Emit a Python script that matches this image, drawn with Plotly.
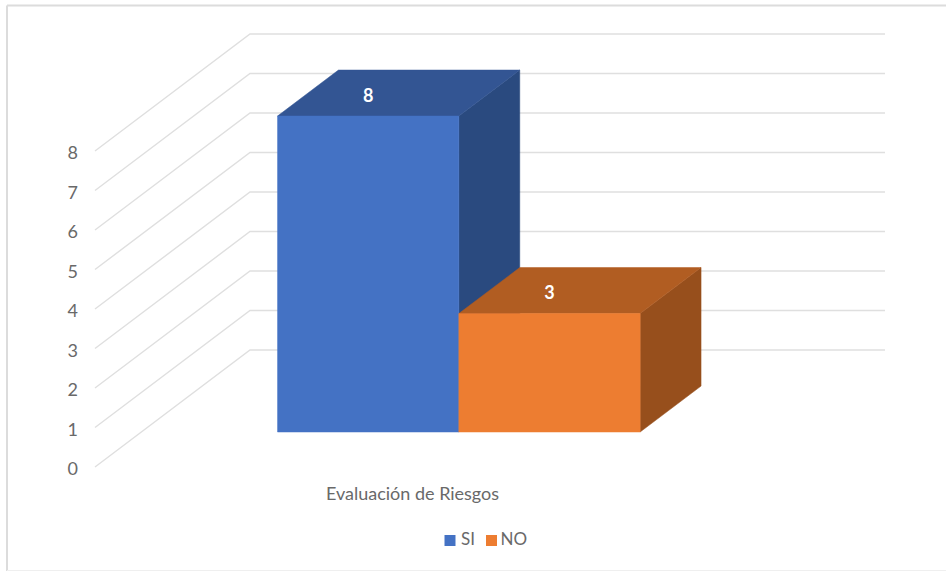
import plotly.graph_objects as go

# Chart data
categories = ["Evaluación de Riesgos"]
series_names = ["SI", "NO"]
si_values = [8]
no_values = [3]
value_ticks = [0, 1, 2, 3, 4, 5, 6, 7, 8]

# Oblique projection: depth runs from the front of the floor (0) to the back wall (1)
WIDTH, HEIGHT = 946, 571
PX_PER_CATEGORY = 635.0
PX_PER_VALUE = 39.5
ORIGIN_X, ORIGIN_Y = 95.0, 467.0
DEPTH_X = 155.0 / PX_PER_CATEGORY
DEPTH_Y = 117.0 / PX_PER_VALUE
BAR_FRONT, BAR_BACK = 0.299, 0.692
BAR_WIDTH = 0.2855

FONT = "Lato, Carlito, Calibri, sans-serif"
TEXT_COLOR = "#696969"
GRID_COLOR = "#dfdfdf"
FACE_COLORS = {
    "SI": ("#4472c4", "#335593", "#2a4a7f"),
    "NO": ("#ed7d31", "#b15d22", "#974f1c"),
}
# Key entries, as pixel positions of the swatch centres and of the start of the names
KEY_X = {"SI": 450.0, "NO": 491.5}
KEY_TEXT_X = {"SI": 461.0, "NO": 500.5}
KEY_Y = 540.5


def project(u, v, d):
    return u + DEPTH_X * d, v + DEPTH_Y * d


def polyline(points):
    xs, ys = zip(*(project(*p) for p in points))
    return list(xs), list(ys)


fig = go.Figure()

# Side and back wall gridlines
for v in value_ticks:
    xs, ys = polyline([(0, v, 0), (0, v, 1), (1, v, 1)])
    fig.add_trace(go.Scatter(x=xs, y=ys, mode="lines", showlegend=False, hoverinfo="skip",
                             line=dict(color=GRID_COLOR, width=1.4)))


def add_face(points, color):
    xs, ys = polyline(points + points[:1])
    fig.add_trace(go.Scatter(x=xs, y=ys, mode="lines", fill="toself", fillcolor=color,
                             line=dict(color=color, width=0.5), showlegend=False,
                             hoverinfo="skip"))


# One box per series, side by side around the category centre
category_center = 0.5
for i, (name, values) in enumerate(zip(series_names, [si_values, no_values])):
    front, top, side = FACE_COLORS[name]
    left = category_center - BAR_WIDTH + i * BAR_WIDTH
    right = left + BAR_WIDTH
    val = values[0]
    add_face([(right, 0, BAR_FRONT), (right, 0, BAR_BACK), (right, val, BAR_BACK), (right, val, BAR_FRONT)], side)
    add_face([(left, val, BAR_FRONT), (right, val, BAR_FRONT), (right, val, BAR_BACK), (left, val, BAR_BACK)], top)
    add_face([(left, 0, BAR_FRONT), (right, 0, BAR_FRONT), (right, val, BAR_FRONT), (left, val, BAR_FRONT)], front)
    lx, ly = project((left + right) / 2, val, BAR_FRONT)
    fig.add_trace(go.Scatter(x=[lx], y=[ly + 0.47], mode="text", text=[str(val)], showlegend=False,
                             hoverinfo="skip",
                             textfont=dict(family=FONT, size=18, color="#ffffff", weight="bold")))

# Compact key below the plot: a square swatch with its series name
key_y = (ORIGIN_Y - KEY_Y) / PX_PER_VALUE
for name in series_names:
    fig.add_trace(go.Scatter(x=[(KEY_X[name] - ORIGIN_X) / PX_PER_CATEGORY], y=[key_y],
                             mode="markers", name=name, showlegend=False, hoverinfo="skip",
                             marker=dict(symbol="square", size=11, color=FACE_COLORS[name][0])))
    fig.add_trace(go.Scatter(x=[(KEY_TEXT_X[name] - ORIGIN_X) / PX_PER_CATEGORY], y=[key_y],
                             mode="text", text=[name], textposition="middle right",
                             showlegend=False, hoverinfo="skip",
                             textfont=dict(family=FONT, size=17, color=TEXT_COLOR)))

x_min = -ORIGIN_X / PX_PER_CATEGORY
x_max = (WIDTH - ORIGIN_X) / PX_PER_CATEGORY
y_max = ORIGIN_Y / PX_PER_VALUE
y_min = (ORIGIN_Y - HEIGHT) / PX_PER_VALUE

fig.update_layout(
    width=WIDTH, height=HEIGHT, autosize=False,
    margin=dict(l=0, r=0, t=0, b=0),
    paper_bgcolor="#ffffff", plot_bgcolor="#ffffff",
    font=dict(family=FONT, size=17, color=TEXT_COLOR),
    hovermode=False,
    showlegend=False,
    xaxis=dict(range=[x_min, x_max], domain=[0, 1], anchor="free", position=1 - ORIGIN_Y / HEIGHT,
               tickvals=[category_center], ticktext=categories, ticks="", ticklabelstandoff=14,
               showgrid=False, zeroline=False, showline=False,
               tickfont=dict(family=FONT, size=18, color=TEXT_COLOR)),
    yaxis=dict(range=[y_min, y_max], domain=[0, 1], anchor="free", position=78 / WIDTH,
               tickvals=value_ticks, ticks="", ticklabelshift=2,
               showgrid=False, zeroline=False, showline=False,
               tickfont=dict(family=FONT, size=18, color=TEXT_COLOR)),
    shapes=[
        dict(type="line", xref="paper", yref="paper", x0=7 / WIDTH, x1=1, y0=1 - 5.5 / HEIGHT, y1=1 - 5.5 / HEIGHT,
             line=dict(color="#dcdcdc", width=2)),
        dict(type="line", xref="paper", yref="paper", x0=7 / WIDTH, x1=7 / WIDTH, y0=0, y1=1 - 5.5 / HEIGHT,
             line=dict(color="#dcdcdc", width=2)),
        dict(type="line", xref="paper", yref="paper", x0=7 / WIDTH, x1=1, y0=0.5 / HEIGHT, y1=0.5 / HEIGHT,
             line=dict(color="#efefef", width=1)),
    ],
)

fig.write_html("out.html")
